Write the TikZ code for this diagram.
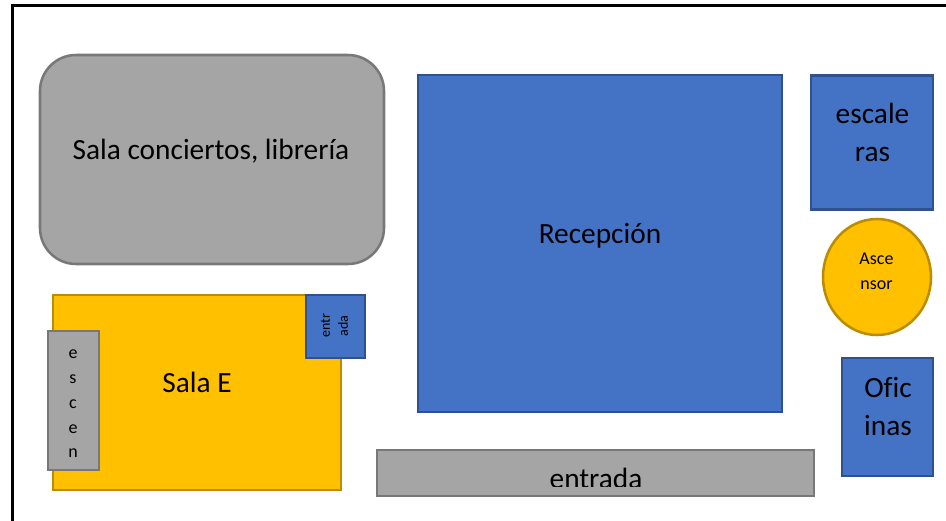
\documentclass[tikz,border=0pt]{standalone}
\usepackage{fontspec}
\usetikzlibrary{shapes.geometric}
\setmainfont[Ligatures=NoCommon]{Carlito}
\definecolor{bluefill}{HTML}{4472C4}
\definecolor{blueline}{HTML}{2F528F}
\definecolor{goldfill}{HTML}{FFC000}
\definecolor{goldline}{HTML}{BC8C00}
\definecolor{grayfill}{HTML}{A5A5A5}
\definecolor{grayline}{HTML}{787878}
\tikzset{
  x=0.75pt, y=-0.75pt,
  shapebox/.style={inner sep=0pt, outer sep=0pt, line width=1.9pt},
  bluebox/.style={shapebox, rectangle, draw=blueline, fill=bluefill},
  goldbox/.style={shapebox, rectangle, draw=goldline, fill=goldfill},
  graybox/.style={shapebox, rectangle, draw=grayline, fill=grayfill},
  lab/.style={inner sep=0pt, align=center, text=black},
  big/.style={lab, font=\fontsize{22}{28.5}\selectfont},
  small/.style={lab, font=\fontsize{13.5}{18.6}\selectfont},
  tiny/.style={lab, font=\fontsize{10.5}{13.5}\selectfont},
}
\begin{document}
\begin{tikzpicture}
\useasboundingbox (0,0) rectangle (946,521);
\path[fill=white] (0,0) rectangle (946,521);
% outer frame, running off the right and bottom
\coordinate (fa) at (12.5,521);
\coordinate (fb) at (12.5,5.5);
\coordinate (fc) at (946,5.5);
\draw[line width=2pt, black] (fa) -- (fb) -- (fc);
% rooms
\node[graybox, minimum width=258pt, minimum height=156.75pt, rounded corners=27pt] (sala) at (212,159.5) {};
\node[big] (salat) at (211,151.5) {Sala conciertos, librería};
\node[bluebox, minimum width=273pt, minimum height=252.75pt] (recep) at (600,243.5) {};
\node[big] (recept) at (600,236) {Recepción};
\node[bluebox, minimum width=91.5pt, minimum height=100.5pt] (esc) at (872,142.5) {};
\node[big] (esct) at (872.5,132) {escale\\ras};
\node[goldbox, ellipse, minimum width=81pt, minimum height=87pt] (asc) at (877,277) {};
\node[small] (asct) at (876.5,271) {Asce\\nsor};
\node[bluebox, minimum width=68.25pt, minimum height=88.5pt] (ofi) at (887.5,417) {};
\node[big] (ofit) at (888,407) {Ofic\\inas};
\node[goldbox, minimum width=216pt, minimum height=146.25pt] (salae) at (197,392.5) {};
\node[big] (salaet) at (197,382) {Sala E};
\node[bluebox, minimum width=44.25pt, minimum height=47.25pt] (ent) at (335.5,326.5) {};
\node[tiny, rotate=90] (entt) at (334.5,326) {entr\\ada};
\node[graybox, minimum width=38.25pt, minimum height=104.25pt] (scen) at (73.5,400.5) {};
\node[small] (scent) at (73,404) {e\\s\\c\\e\\n};
\node[graybox, minimum width=327.75pt, minimum height=34.5pt] (ent2) at (595.5,473) {};
\begin{scope}
  \clip (376,449) rectangle (815,486);
  \node[big, anchor=base] (ent2t) at (596,488.5) {entrada};
\end{scope}
\end{tikzpicture}
\end{document}
